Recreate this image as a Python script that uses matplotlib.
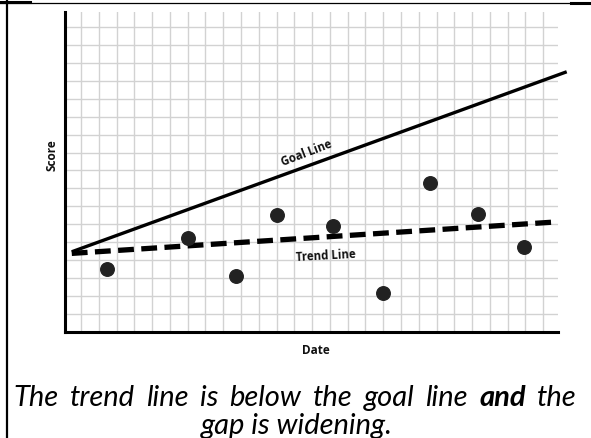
import matplotlib
matplotlib.use("Agg")
import matplotlib.pyplot as plt
from matplotlib.lines import Line2D
import numpy as np

W, H = 591, 438

# --- data (grid units) ---
point_x = [1.45, 6.00, 8.73, 11.01, 14.19, 16.97, 19.63, 22.35, 24.93]
point_y = [3.51, 5.25, 3.14, 6.52, 5.92, 2.19, 8.32, 6.57, 4.75]
goal_x = [-0.52, 27.32]
goal_y = [4.47, 14.50]
trend_x = [-0.52, 26.85]
trend_y = [4.38, 6.14]
grid_x = list(range(0, 27))
grid_y = list(range(1, 18))
xlim = (-0.9, 26.83)
ylim = (0, 17.83)

x_label = "Date"
y_label = "Score"
goal_label = "Goal Line"
trend_label = "Trend Line"
caption1_words = [("The", "normal"), ("trend", "normal"), ("line", "normal"), ("is", "normal"),
                  ("below", "normal"), ("the", "normal"), ("goal", "normal"), ("line", "normal"),
                  ("and", "bold"), ("the", "normal")]
caption2 = "gap is widening."

fig = plt.figure(figsize=(W / 100, H / 100), dpi=100)
fig.patch.set_facecolor("white")

def fx(px):
    return px / W

def fy(py):
    return 1 - py / H

ax = fig.add_axes([fx(65), fy(332), (558 - 65) / W, (332 - 12) / H])
ax.set_xlim(*xlim)
ax.set_ylim(*ylim)
for gx in grid_x:
    ax.axvline(gx, color="#d2d2d2", lw=1.0, zorder=0)
for gy in grid_y:
    ax.axhline(gy, color="#d2d2d2", lw=1.0, zorder=0)
ax.set_xticks([])
ax.set_yticks([])
for s in ["top", "right"]:
    ax.spines[s].set_visible(False)
for s in ["left", "bottom"]:
    ax.spines[s].set_linewidth(2.2)
    ax.spines[s].set_color("black")

ax.plot(goal_x, goal_y, color="black", lw=2.4, clip_on=False, solid_capstyle="butt", zorder=3)
ax.plot(trend_x, trend_y, color="black", lw=3.8, dashes=(3.0, 1.4), clip_on=False, zorder=3)
ax.scatter(point_x, point_y, s=95, color="#222222", zorder=4, clip_on=False)

# line labels
ax.text(12.71, 9.95, goal_label, rotation=21, ha="center", va="center",
        fontsize=8.3, fontweight="bold", family="Open Sans", color="#111111")
ax.text(13.78, 4.25, trend_label, rotation=3, ha="center", va="center",
        fontsize=8.3, fontweight="bold", family="Open Sans", color="#111111")

fig.text(fx(52), fy(155), y_label, rotation=90, ha="center", va="center",
         fontsize=8.5, fontweight="bold", family="Open Sans", color="#111111")
fig.text(fx(316), fy(350), x_label, ha="center", va="center",
         fontsize=8.5, fontweight="bold", family="Open Sans", color="#111111")

# page border
fig.add_artist(Line2D([fx(7), fx(7)], [0, 1], color="black", lw=1.6))
fig.add_artist(Line2D([0, 1], [fy(2.5), fy(2.5)], color="black", lw=0.9))
fig.add_artist(Line2D([0, fx(30)], [fy(1.5), fy(1.5)], color="black", lw=2.2))
fig.add_artist(Line2D([fx(571), 1], [fy(2.5), fy(2.5)], color="black", lw=2.2))

# caption
cap_font = "Lato"
cap_size = 21

# line 1: words spread between left and right margins
texts = [fig.text(0, fy(406), w, fontsize=cap_size, style="italic", fontweight=wt,
                  family=cap_font, va="baseline", ha="left", color="black")
         for w, wt in caption1_words]
fig.canvas.draw()
r = fig.canvas.get_renderer()
widths = [t.get_window_extent(r).width for t in texts]
left, right = 13, 577
gap = (right - left - sum(widths)) / (len(texts) - 1)
x = left
for t, w in zip(texts, widths):
    t.set_x(fx(x))
    x += w + gap

fig.text(fx(297), fy(434), caption2, fontsize=cap_size, style="italic",
         family=cap_font, va="baseline", ha="center", color="black")

fig.savefig("out.png", dpi=100, facecolor="white")
